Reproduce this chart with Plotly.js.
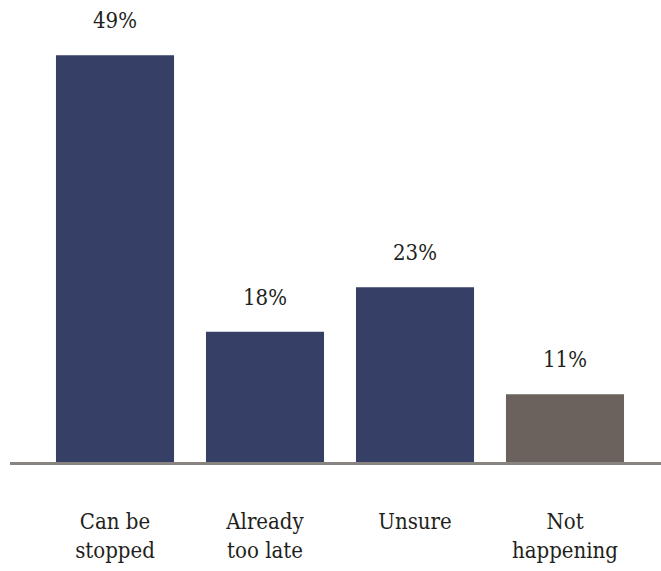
<!DOCTYPE html>
<html>
<head>
<meta charset="utf-8">
<script src="https://cdn.plot.ly/plotly-3.0.1.min.js"></script>
<style>html,body{margin:0;padding:0;background:#fff;}#chart{width:661px;height:571px;}</style>
</head>
<body>
<div id="chart"></div>
<script>
const categories = ["Can be<br>stopped", "Already<br>too late", "Unsure", "Not<br>happening"];
const values = [49, 18, 23, 11];
const valueLabels = ["49%", "18%", "23%", "11%"];
const barColors = ["#363f66", "#363f66", "#363f66", "#6b625e"];

const font = {family: "DejaVu Serif Condensed, DejaVu Serif", color: "#231f20"};

const trace = {
  type: "bar",
  x: categories,
  y: values,
  marker: {color: barColors},
  hoverinfo: "none"
};

const annotations = categories.map((c, i) => ({
  x: c, y: values[i], text: valueLabels[i],
  xref: "x", yref: "y", showarrow: false,
  yanchor: "bottom", yshift: 20,
  font: Object.assign({}, font, {size: 22})
}));

const layout = {
  width: 661, height: 571,
  margin: {l: 10, r: 0, t: 0, b: 109},
  paper_bgcolor: "#ffffff", plot_bgcolor: "#ffffff",
  bargap: 0.213,
  showlegend: false,
  xaxis: {
    type: "category",
    range: [-0.7, 3.64],
    showline: true, linecolor: "#8a8480", linewidth: 3,
    ticks: "", ticklabelstandoff: 38,
    tickfont: Object.assign({}, font, {size: 22}),
    showgrid: false, zeroline: false, fixedrange: true
  },
  yaxis: {
    range: [3.4, 55.2],
    visible: false, showgrid: false, zeroline: false, fixedrange: true
  },
  annotations: annotations,
  font: font
};

Plotly.newPlot("chart", [trace], layout, {displayModeBar: false, staticPlot: true});
</script>
</body>
</html>
